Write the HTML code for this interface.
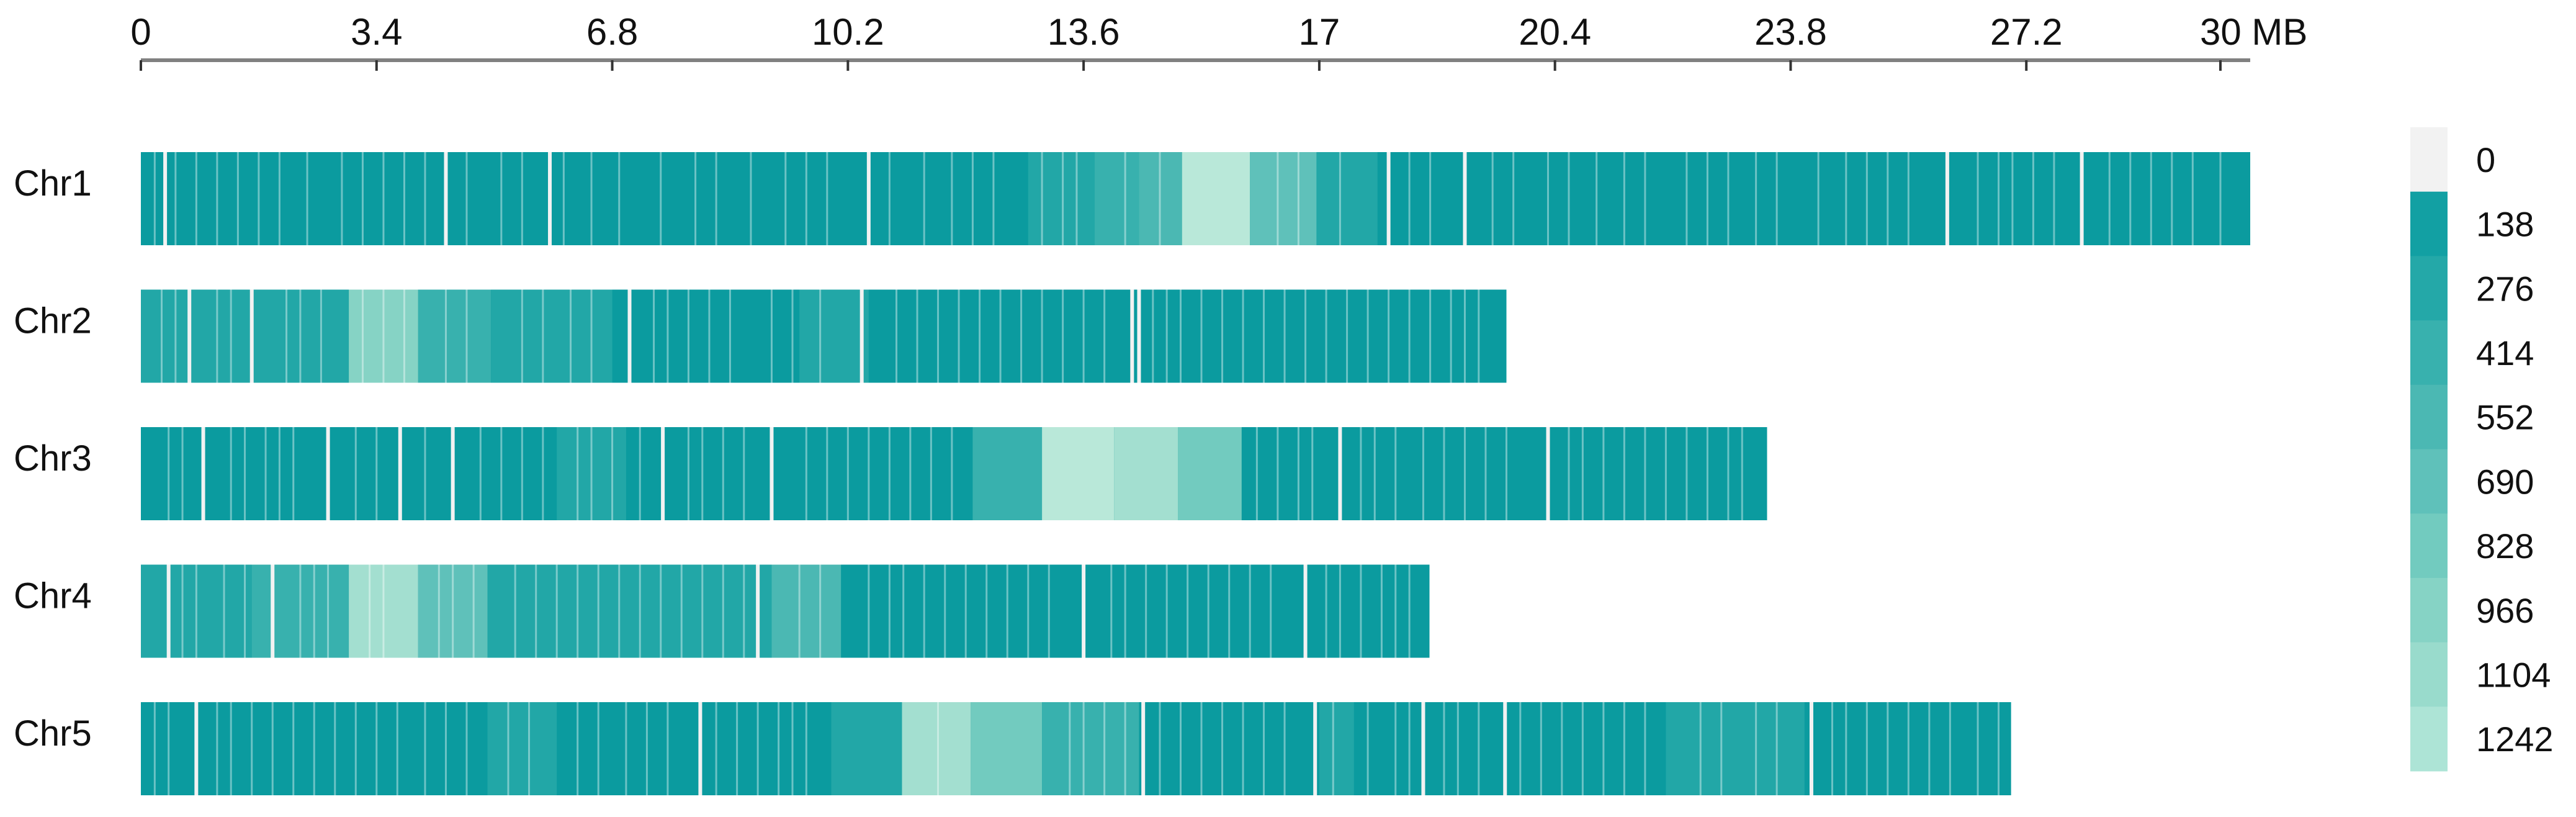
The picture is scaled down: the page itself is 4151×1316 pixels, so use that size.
<!DOCTYPE html>
<html><head><meta charset="utf-8"><style>
html,body{margin:0;padding:0;background:#fff;}
svg{display:block;font-family:"Liberation Sans",Arial,sans-serif;}
</style></head><body>
<svg id="chart" width="4151" height="1316" viewBox="0 0 4151 1316" xmlns="http://www.w3.org/2000/svg">
<g id="axis"></g>
<g id="bars"></g>
<g id="legend"></g>
</svg>
<script>
const chromNames = ["Chr1","Chr2","Chr3","Chr4","Chr5"];
const chromLengths = [30.43, 19.70, 23.46, 18.59, 26.98];
const tickValues = [0,3.4,6.8,10.2,13.6,17,20.4,23.8,27.2,30];
const tickLabels = ["0","3.4","6.8","10.2","13.6","17","20.4","23.8","27.2","30 MB"];
const legendLabels = ["0","138","276","414","552","690","828","966","1104","1242"];
const levelColors = ["#f2f2f2","#0b9b9f","#22a7a7","#38b1ae","#4bb8b3","#5fc1ba","#72cbbf","#86d3c5","#a3dfd0","#b9e8d9"];
const legendColors = ["#f2f2f2","#12a0a3","#24a8a8","#38b1ae","#4bb8b3","#5fc1ba","#72cbbf","#86d3c5","#99dbcc","#ade4d6"];
// density regions: [startMB, endMB, level]
const chr1Regions = [[12.8,13.76,2],[13.76,14.4,3],[14.4,15.02,4],[15.02,16.0,9],[16.0,16.96,5],[16.96,17.84,2]];
const chr2Regions = [[0,3.0,2],[3.0,4.0,7],[4.0,5.05,3],[5.05,6.8,2],[9.5,10.5,2]];
const chr3Regions = [[6.0,7.0,2],[12.0,13.0,3],[13.0,14.04,9],[14.04,14.96,8],[14.96,15.88,6]];
const chr4Regions = [[0,1.6,2],[1.6,3.0,3],[3.0,4.0,8],[4.0,5.0,5],[5.0,9.1,2],[9.1,10.1,4]];
const chr5Regions = [[5.0,6.0,2],[9.96,10.98,2],[10.98,11.97,8],[11.97,13.0,6],[13.0,14.4,3],[17.0,17.5,2],[22.0,24.0,2]];
// white gaps (empty bins), MB
const chr1Gaps = [0.35,4.4,5.9,10.5,18.0,19.1,26.06,28.0];
const chr2Gaps = [0.7,1.6,7.05,10.4,14.3,14.4];
const chr3Gaps = [0.9,2.7,3.74,4.5,7.53,9.1,17.3,20.3];
const chr4Gaps = [0.4,1.9,8.9,13.6,16.8];
const chr5Gaps = [0.8,8.07,14.46,16.94,18.5,19.68,24.1];
// thin light lines (low-density bins), MB
const chr1Lines = [0.2,0.5,0.8,1.1,1.4,1.7,2.0,2.4,2.9,3.2,3.5,3.8,4.1,4.7,5.2,5.5,6.1,6.5,6.9,7.5,8.0,8.3,8.8,9.3,9.6,9.9,10.8,11.3,11.7,12.0,12.3,13.0,13.3,13.5,14.2,14.7,16.4,16.7,17.3,18.3,18.6,19.5,19.8,20.3,20.6,21.0,21.4,21.7,22.3,22.6,22.9,23.3,23.6,24.2,24.6,24.9,25.2,25.5,26.5,26.8,27.0,27.3,27.6,28.4,28.7,29.0,29.3,29.6,30.0];
const chr2Lines = [0.3,0.5,1.1,1.3,2.1,2.3,2.6,3.2,3.5,3.8,4.4,4.7,5.5,5.8,6.2,6.5,7.4,7.6,7.9,8.2,8.5,9.1,9.4,9.8,10.9,11.2,11.5,11.8,12.1,12.4,12.7,13.0,13.3,13.6,13.9,14.6,14.8,15.0,15.3,15.6,15.9,16.2,16.5,16.8,17.1,17.4,17.7,18.0,18.3,18.6,18.9,19.1,19.3];
const chr3Lines = [0.4,0.6,1.3,1.5,1.8,2.0,2.2,3.1,3.4,4.1,4.9,5.2,5.5,5.8,6.3,6.5,6.8,7.2,7.9,8.1,8.4,8.7,9.6,9.9,10.2,10.5,10.8,11.1,11.4,11.7,16.1,16.4,16.7,16.9,17.6,17.8,18.1,18.5,18.8,19.1,19.4,19.7,20.6,20.8,21.1,21.4,21.7,22.0,22.3,22.6,22.9,23.1];
const chr4Lines = [0.6,0.8,1.2,1.5,2.3,2.5,2.7,3.3,3.5,4.3,4.5,4.8,5.4,5.7,6.0,6.3,6.6,6.9,7.2,7.5,7.8,8.1,8.4,8.7,9.5,9.8,10.5,10.8,11.0,11.3,11.6,11.9,12.2,12.5,12.8,13.1,14.0,14.2,14.5,14.8,15.1,15.4,15.7,16.0,16.3,17.1,17.3,17.6,17.9,18.1,18.3];
const chr5Lines = [0.2,0.4,1.1,1.3,1.6,1.9,2.2,2.5,2.8,3.1,3.4,3.7,4.1,4.4,4.7,5.3,5.6,6.3,6.6,7.0,7.3,7.6,8.3,8.6,8.9,9.2,9.4,9.6,11.5,13.4,13.6,13.9,14.2,14.7,15.0,15.3,15.6,15.9,16.2,16.5,17.2,17.7,18.1,18.3,18.8,19.0,19.3,19.9,20.2,20.5,20.8,21.1,21.4,21.7,22.5,22.8,23.3,23.6,24.4,24.6,24.9,25.2,25.5,25.8,26.1,26.5,26.8];
const allRegions = [chr1Regions,chr2Regions,chr3Regions,chr4Regions,chr5Regions];
const allGaps = [chr1Gaps,chr2Gaps,chr3Gaps,chr4Gaps,chr5Gaps];
const allLines = [chr1Lines,chr2Lines,chr3Lines,chr4Lines,chr5Lines];

const NS = "http://www.w3.org/2000/svg";
const X0 = 227, PXMB = 111.7;
const xScale = mb => X0 + mb * PXMB;
const ROW0 = 245, ROWSTEP = 221.5, BARH = 150;
const yRow = i => ROW0 + i * ROWSTEP;
function mk(tag, attrs, parent){const e=document.createElementNS(NS,tag);for(const k in attrs)e.setAttribute(k,attrs[k]);parent.appendChild(e);return e;}

// axis
const axis = document.getElementById('axis');
const axLine = mk('line',{x1:xScale(0),x2:xScale(chromLengths[0]),y1:97,y2:97,stroke:'#808080','stroke-width':6},axis);


tickValues.forEach((v,i)=>{
  const t = mk('line',{x1:xScale(v),x2:xScale(v),y1:97,y2:114,stroke:'#333','stroke-width':4},axis);
  
  
  const last = i===tickValues.length-1;
  const lb = mk('text',{x:last?xScale(v)-33:xScale(v),y:72,'font-size':60,'text-anchor':last?'start':'middle',fill:'#111'},axis);
  lb.textContent = tickLabels[i];
  
  
});

// bars
const bars = document.getElementById('bars');
chromNames.forEach((name,i)=>{
  const g = mk('g',{},bars);
  
  
  const y = yRow(i);
  const lb = mk('text',{x:22,y:y+70,'font-size':58,fill:'#111'},g);
  lb.textContent = name;
  
  
  const base = mk('rect',{x:xScale(0),y:y,width:xScale(chromLengths[i])-xScale(0),height:BARH,fill:levelColors[1]},g);
  
  
  allRegions[i].forEach(r=>{
    const c = mk('rect',{x:xScale(r[0]),y:y,width:xScale(r[1])-xScale(r[0]),height:BARH,fill:levelColors[r[2]]},g);
    
    
  });
  allLines[i].forEach(m=>{
    const c = mk('rect',{x:xScale(m)-1.5,y:y,width:3,height:BARH,fill:'#ffffff','fill-opacity':0.4},g);
    
    
  });
  allGaps[i].forEach(m=>{
    const c = mk('rect',{x:xScale(m)-3,y:y,width:6,height:BARH,fill:levelColors[0]},g);
    
    
  });
});

// legend
const legend = document.getElementById('legend');
const LX = 3884, LY = 205, LH = 103.7;
legendLabels.forEach((t,i)=>{
  const r = mk('rect',{x:LX,y:LY+i*LH,width:60,height:LH+0.5,fill:legendColors[i]},legend);
  
  
  const tx = mk('text',{x:3990,y:LY+i*LH+LH/2+20,'font-size':56,fill:'#111'},legend);
  tx.textContent = t;
  
  
});
</script>
</body></html>
